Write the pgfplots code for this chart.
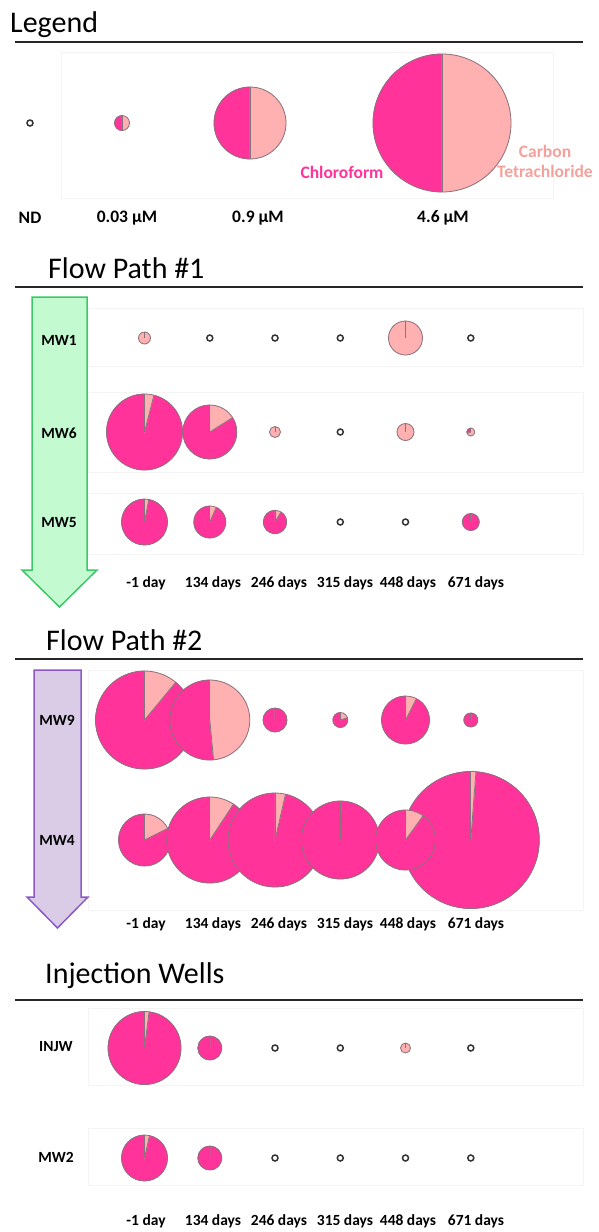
\documentclass[border=0pt]{standalone}
\usepackage{pgfplots}
\pgfplotsset{compat=1.18}
\usepackage{pgfplotstable}
\usepackage{fontspec}
\setmainfont{Carlito}
\definecolor{chl}{RGB}{255,51,153}
\definecolor{ctc}{RGB}{255,176,176}
\definecolor{pedge}{RGB}{135,115,125}
\definecolor{cttext}{RGB}{245,160,155}
\definecolor{gfill}{RGB}{196,250,208}
\definecolor{gline}{RGB}{60,200,105}
\definecolor{pfill}{RGB}{218,204,230}
\definecolor{pline}{RGB}{140,90,200}
\definecolor{boxc}{RGB}{244,244,244}
\pgfdeclareplotmark{emptymark}{}

% x y = pixel position, r = radius, f = carbon tetrachloride fraction
\pgfplotstableread{
x y r f
122 123 7.5 0.5
250 123 36 0.5
442 123 69 0.5
}\legpies
\pgfplotstableread{
x y
30 123
}\legnd
\pgfplotstableread{
x y r f
144.5 338 6 1
405.5 338 17 1
144.5 432 38 0.04
209.8 432 27 0.16
275 432 5.5 1
405.5 432 8.5 1
470.8 432 4 0.7
144.5 522 23 0.03
209.8 522 16 0.066
275 522 11.7 0.086
470.8 522 8.5 0.01
}\fpone
\pgfplotstableread{
x y
209.8 338
275 338
340.3 338
470.8 338
340.3 432
340.3 522
405.5 522
}\fponend
\pgfplotstableread{
x y r f
144.5 720 49 0.11
209.8 720 40 0.485
275 720 12 0.003
340.3 720 7.5 0.2
405.5 720 24 0.075
470.8 720 7 0.015
144.5 840 26 0.176
209.8 840 43 0.093
275 840 47 0.036
340.3 840 39 0.003
470.8 840 68.5 0.012
405.5 840 30 0.10
}\fptwo
\pgfplotstableread{
x y r f
144.5 1048 36.5 0.02
209.8 1048 12 0.003
405.5 1048 5 1
144.5 1158 23 0.035
209.8 1158 12 0.003
}\injpies
\pgfplotstableread{
x y
275 1048
340.3 1048
470.8 1048
275 1158
340.3 1158
405.5 1158
470.8 1158
}\injnd

\pgfplotsset{
  pie/.style={scatter, only marks, mark=emptymark,
    visualization depends on={\thisrow{r}\as\prad},
    visualization depends on={\thisrow{f}\as\pfrac},
    scatter/@pre marker code/.code={%
      \pgfmathsetmacro\pang{90-360*\pfrac}%
      \fill[chl] (0,0) -- (\pang:\prad pt) arc[start angle=\pang, end angle=-270, radius=\prad pt] -- cycle;
      \fill[ctc] (0,0) -- (90:\prad pt) arc[start angle=90, end angle=\pang, radius=\prad pt] -- cycle;
      \draw[pedge, line width=0.8pt] (0,0) circle[radius=\prad pt];
      \draw[pedge, line width=0.8pt] (0,0) -- (90:\prad pt);
      \draw[pedge, line width=0.8pt] (0,0) -- (\pang:\prad pt);
    },
    scatter/@post marker code/.code={}},
  nd/.style={only marks, mark=*, mark size=3pt, line width=1.5pt,
    draw=black!80, mark options={draw=black!80, fill=white, line width=1.5pt}},
}
\tikzset{
  ttl/.style={anchor=base west, inner sep=0pt, font=\fontsize{30}{34}\selectfont},
  lab/.style={font=\fontsize{15.5}{18}\selectfont\bfseries},
  llab/.style={font=\fontsize{17.5}{20}\selectfont\bfseries},
}

\begin{document}
\begin{tikzpicture}
\begin{axis}[x=1pt, y=1pt, xmin=0, xmax=599, ymin=0, ymax=1232,
  y dir=reverse, hide axis, clip=false]
\path (axis cs:0,0) rectangle (axis cs:599,1232);

% ---- Legend ----
\node[ttl] at (axis cs:10,32) {Legend};
\draw[black!85, line width=2.5pt] (axis cs:15,42) -- (axis cs:583,42);
\draw[boxc, line width=0.8pt] (axis cs:61,52) rectangle (axis cs:553,198);
\addplot[pie] table[x=x, y=y] {\legpies};
\addplot[nd] table[x=x, y=y] {\legnd};
\node[llab] at (axis cs:30,218) {ND};
\node[llab] at (axis cs:127,218) {0.03 µM};
\node[llab] at (axis cs:258,218) {0.9 µM};
\node[llab] at (axis cs:443,218) {4.6 µM};
\node[llab, text=chl] at (axis cs:342,172) {Chloroform};
\node[llab, text=cttext, align=center] at (axis cs:545,161) {Carbon\\Tetrachloride};

% ---- Flow Path #1 ----
\node[ttl] at (axis cs:48,278) {Flow Path \#1};
\draw[black!85, line width=2.5pt] (axis cs:15,287) -- (axis cs:583,287);
\draw[boxc, line width=0.8pt] (axis cs:88,308) rectangle (axis cs:583,366);
\draw[boxc, line width=0.8pt] (axis cs:88,392) rectangle (axis cs:583,472);
\draw[boxc, line width=0.8pt] (axis cs:88,493) rectangle (axis cs:583,554);
\draw[gline, fill=gfill, line width=1.5pt, line join=miter]
  (axis cs:32,297) -- (axis cs:87,297) -- (axis cs:87,570) -- (axis cs:97,570)
  -- (axis cs:59.5,607) -- (axis cs:22,570) -- (axis cs:32,570) -- cycle;
\node[lab] at (axis cs:59,340) {MW1};
\node[lab] at (axis cs:59,433) {MW6};
\node[lab] at (axis cs:59,523) {MW5};
\addplot[pie] table[x=x, y=y] {\fpone};
\addplot[nd] table[x=x, y=y] {\fponend};
\node[lab] at (axis cs:146,583) {-1 day};
\node[lab] at (axis cs:213,583) {134 days};
\node[lab] at (axis cs:279,583) {246 days};
\node[lab] at (axis cs:345,583) {315 days};
\node[lab] at (axis cs:408,583) {448 days};
\node[lab] at (axis cs:476,583) {671 days};

% ---- Flow Path #2 ----
\node[ttl] at (axis cs:46,650) {Flow Path \#2};
\draw[black!85, line width=2.5pt] (axis cs:15,659) -- (axis cs:583,659);
\draw[boxc, line width=0.8pt] (axis cs:88,670) rectangle (axis cs:583,910);
\draw[pline, fill=pfill, line width=1.5pt, line join=miter]
  (axis cs:34,670) -- (axis cs:81,670) -- (axis cs:81,897) -- (axis cs:88,897)
  -- (axis cs:57.5,928) -- (axis cs:27,897) -- (axis cs:34,897) -- cycle;
\node[lab] at (axis cs:57,720) {MW9};
\node[lab] at (axis cs:57,840) {MW4};
\addplot[pie] table[x=x, y=y] {\fptwo};
\node[lab] at (axis cs:146,924) {-1 day};
\node[lab] at (axis cs:213,924) {134 days};
\node[lab] at (axis cs:279,924) {246 days};
\node[lab] at (axis cs:345,924) {315 days};
\node[lab] at (axis cs:408,924) {448 days};
\node[lab] at (axis cs:476,924) {671 days};

% ---- Injection Wells ----
\node[ttl] at (axis cs:45,983) {Injection Wells};
\draw[black!85, line width=2.5pt] (axis cs:15,1000) -- (axis cs:583,1000);
\draw[boxc, line width=0.8pt] (axis cs:88,1008) rectangle (axis cs:583,1085);
\draw[boxc, line width=0.8pt] (axis cs:88,1128) rectangle (axis cs:583,1185);
\node[lab] at (axis cs:56,1047) {INJW};
\node[lab] at (axis cs:56,1157) {MW2};
\addplot[pie] table[x=x, y=y] {\injpies};
\addplot[nd] table[x=x, y=y] {\injnd};
\node[lab] at (axis cs:146,1221) {-1 day};
\node[lab] at (axis cs:213,1221) {134 days};
\node[lab] at (axis cs:279,1221) {246 days};
\node[lab] at (axis cs:345,1221) {315 days};
\node[lab] at (axis cs:408,1221) {448 days};
\node[lab] at (axis cs:476,1221) {671 days};
\end{axis}
\end{tikzpicture}
\end{document}
